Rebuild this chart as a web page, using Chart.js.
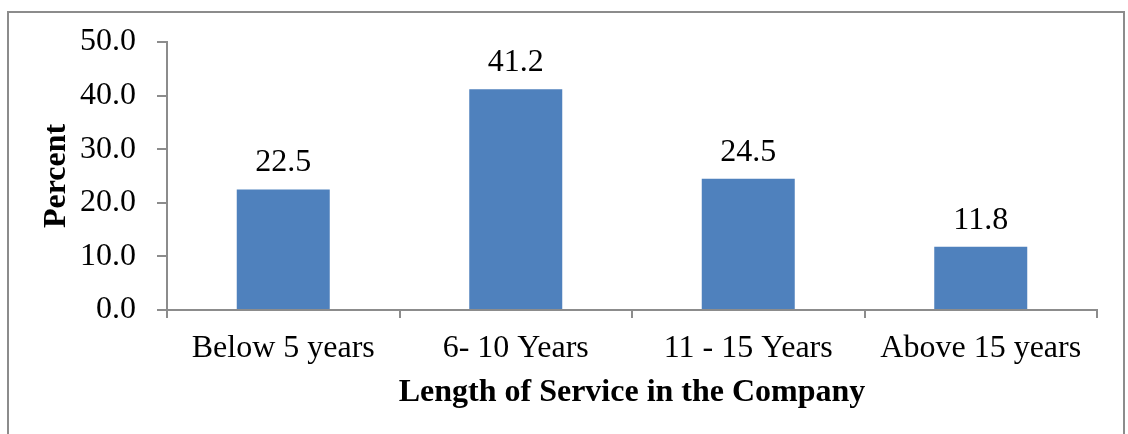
<!DOCTYPE html>
<html>
<head>
<meta charset="utf-8">
<script src="https://cdn.jsdelivr.net/npm/chart.js@4/dist/chart.umd.min.js"></script>
<style>
html,body{margin:0;padding:0;background:#fff;overflow:hidden;width:1128px;height:434px;}
#frame{position:absolute;left:7px;top:11px;width:1118px;height:500px;box-sizing:border-box;border:2px solid #8c8c8c;}
#wrap{position:absolute;left:0;top:0;width:1128px;height:434px;}
</style>
</head>
<body>
<div id="frame"></div>
<div id="wrap"><canvas id="c" width="1128" height="434"></canvas></div>
<script>
const categories = ["Below 5 years", "6- 10 Years", "11 - 15 Years", "Above 15 years"];
const percentValues = [22.5, 41.2, 24.5, 11.8];
const yTicks = [0, 10, 20, 30, 40, 50];

const FONT = "'Liberation Serif', 'Times New Roman', serif";
const AXIS_COLOR = '#8c8c8c';

const valueLabels = {
  id: 'valueLabels',
  afterDatasetsDraw(chart) {
    const ctx = chart.ctx;
    ctx.save();
    ctx.font = '32px ' + FONT;
    ctx.fillStyle = '#000';
    ctx.textAlign = 'center';
    ctx.textBaseline = 'alphabetic';
    chart.getDatasetMeta(0).data.forEach((bar, i) => {
      ctx.fillText(percentValues[i].toFixed(1), bar.x, bar.y - 18);
    });
    ctx.restore();
  }
};

new Chart(document.getElementById('c'), {
  type: 'bar',
  data: {
    labels: categories,
    datasets: [{
      data: percentValues,
      backgroundColor: '#4F81BD',
      borderWidth: 0,
      barPercentage: 0.8,
      categoryPercentage: 0.5
    }]
  },
  plugins: [valueLabels],
  options: {
    responsive: false,
    animation: false,
    devicePixelRatio: 1,
    layout: { padding: { left: 0, top: 42, right: 31, bottom: 0 } },
    plugins: { legend: { display: false }, tooltip: { enabled: false } },
    scales: {
      x: {
        afterFit(s) { s.height = 124; },
        grid: { display: true, drawOnChartArea: false, drawTicks: true, tickLength: 8, color: AXIS_COLOR, lineWidth: 2, offset: true },
        border: { display: true, color: AXIS_COLOR, width: 2 },
        ticks: { color: '#000', font: { family: FONT, size: 32 }, padding: 11, maxRotation: 0 },
        title: { display: true, text: 'Length of Service in the Company', color: '#000', font: { family: FONT, size: 32, weight: 'bold' }, padding: { top: 0, bottom: 22 } }
      },
      y: {
        min: 0, max: 50,
        afterFit(s) { s.width = 167; },
        afterBuildTicks(s) { s.ticks = yTicks.map(v => ({ value: v })); },
        grid: { display: true, drawOnChartArea: false, drawTicks: true, tickLength: 10, color: AXIS_COLOR, lineWidth: 2 },
        border: { display: true, color: AXIS_COLOR, width: 2 },
        ticks: { color: '#000', font: { family: FONT, size: 32 }, padding: 21, callback: v => Number(v).toFixed(1) },
        title: { display: true, text: 'Percent', color: '#000', font: { family: FONT, size: 32, weight: 'bold' }, padding: { top: 38, bottom: 0 } }
      }
    }
  }
});
</script>
</body>
</html>
